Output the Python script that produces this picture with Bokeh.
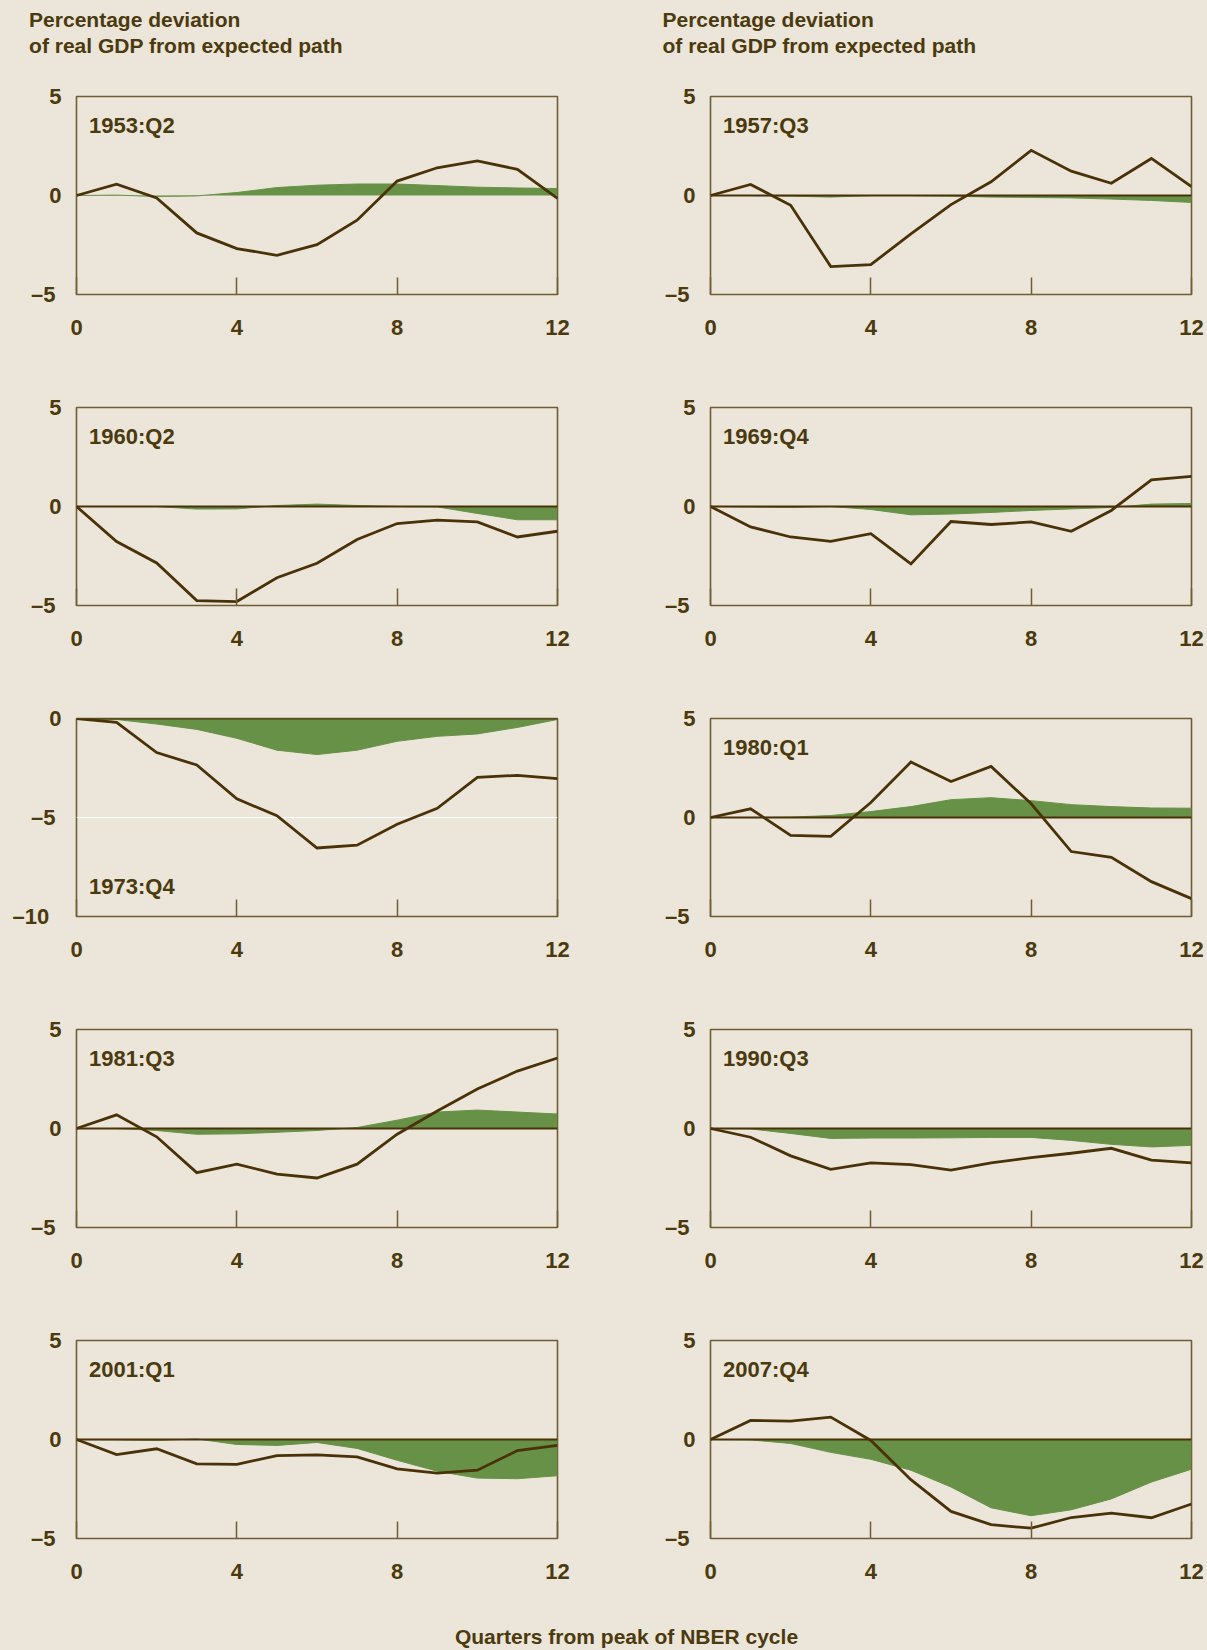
from bokeh.plotting import figure
from bokeh.models import Range1d, FixedTicker, Label
from bokeh.layouts import column, row
from bokeh.embed import file_html
from bokeh.resources import INLINE

# ---------------- data ----------------
quarters = list(range(13))
x_ticks = [0, 4, 8, 12]

panel_labels = ["1953:Q2", "1957:Q3", "1960:Q2", "1969:Q4", "1973:Q4",
                "1980:Q1", "1981:Q3", "1990:Q3", "2001:Q1", "2007:Q4"]

actual_1953 = [0, 0.57, -0.12, -1.89, -2.68, -3.02, -2.48, -1.25, 0.73, 1.4, 1.75, 1.32, -0.15]
shaded_1953 = [0, 0.02, -0.05, -0.02, 0.15, 0.4, 0.52, 0.58, 0.58, 0.5, 0.42, 0.38, 0.35]

actual_1957 = [0, 0.56, -0.49, -3.59, -3.49, -1.94, -0.46, 0.69, 2.28, 1.23, 0.62, 1.87, 0.45]
shaded_1957 = [0, 0, -0.03, -0.08, 0, 0, -0.03, -0.08, -0.1, -0.12, -0.18, -0.25, -0.35]

actual_1960 = [0, -1.77, -2.85, -4.75, -4.8, -3.6, -2.87, -1.67, -0.86, -0.69, -0.78, -1.54, -1.25]
shaded_1960 = [0, 0, 0, -0.13, -0.12, 0.05, 0.12, 0.05, 0, -0.02, -0.35, -0.67, -0.67]

actual_1969 = [0, -1.03, -1.54, -1.76, -1.37, -2.9, -0.76, -0.91, -0.78, -1.25, -0.2, 1.35, 1.52]
shaded_1969 = [0, -0.03, -0.05, 0, -0.15, -0.42, -0.38, -0.3, -0.2, -0.12, -0.05, 0.12, 0.15]

actual_1973 = [0, -0.19, -1.72, -2.35, -4.06, -4.91, -6.54, -6.4, -5.34, -4.54, -2.97, -2.87, -3.04]
shaded_1973 = [0, -0.05, -0.28, -0.55, -1.0, -1.6, -1.82, -1.6, -1.15, -0.9, -0.78, -0.45, -0.05]

actual_1980 = [0, 0.44, -0.9, -0.95, 0.76, 2.8, 1.82, 2.58, 0.69, -1.72, -2.01, -3.24, -4.1]
shaded_1980 = [0, 0, 0.02, 0.1, 0.3, 0.55, 0.9, 1.0, 0.85, 0.65, 0.55, 0.48, 0.47]

actual_1981 = [0, 0.69, -0.42, -2.23, -1.8, -2.3, -2.5, -1.8, -0.29, 0.88, 1.99, 2.9, 3.56]
shaded_1981 = [0, 0, -0.1, -0.29, -0.27, -0.19, -0.1, 0.05, 0.42, 0.83, 0.93, 0.83, 0.73]

actual_1990 = [0, -0.44, -1.38, -2.06, -1.74, -1.82, -2.1, -1.74, -1.47, -1.25, -1.0, -1.6, -1.74]
shaded_1990 = [0, -0.02, -0.25, -0.5, -0.48, -0.48, -0.47, -0.45, -0.45, -0.6, -0.8, -0.93, -0.85]

actual_2001 = [0, -0.76, -0.47, -1.23, -1.26, -0.81, -0.78, -0.88, -1.48, -1.7, -1.55, -0.56, -0.3]
shaded_2001 = [0, -0.02, -0.05, 0.03, -0.25, -0.3, -0.15, -0.45, -1.05, -1.6, -1.95, -1.98, -1.83]

actual_2007 = [0, 0.96, 0.93, 1.13, -0.05, -2.03, -3.63, -4.3, -4.48, -3.94, -3.72, -3.95, -3.26]
shaded_2007 = [0, -0.02, -0.2, -0.65, -1.0, -1.55, -2.4, -3.45, -3.85, -3.55, -3.0, -2.15, -1.5]

actual_series = [actual_1953, actual_1957, actual_1960, actual_1969, actual_1973,
                 actual_1980, actual_1981, actual_1990, actual_2001, actual_2007]
shaded_series = [shaded_1953, shaded_1957, shaded_1960, shaded_1969, shaded_1973,
                 shaded_1980, shaded_1981, shaded_1990, shaded_2001, shaded_2007]

header_line1 = "Percentage deviation"
header_line2 = "of real GDP from expected path"
footer_text = "Quarters from peak of NBER cycle"

# ---------------- style ----------------
BG = "#ECE5D9"
TEXT = "#4A3A0E"
LINE = "#4A3208"
BORDER = "#6F5D34"
GREEN = "#679147"
FONT = "Liberation Sans"

FRAME_W, FRAME_H = 481, 198
L_LEFT, L_RIGHT, R_LEFT, R_RIGHT = 76, 20, 133, 16
TOTAL_W = L_LEFT + FRAME_W + L_RIGHT + R_LEFT + FRAME_W + R_RIGHT


def make_panel(idx, col, rowi):
    label = panel_labels[idx]
    is_1973 = label == "1973:Q4"
    ylo, yhi = (-10, 0) if is_1973 else (-5, 5)
    p = figure(frame_width=FRAME_W, frame_height=FRAME_H,
               x_range=Range1d(0, 12), y_range=Range1d(ylo, yhi),
               output_backend="svg", toolbar_location=None,
               background_fill_color=BG, border_fill_color=BG,
               outline_line_color=BORDER, outline_line_width=1.6,
               min_border_left=L_LEFT if col == 0 else R_LEFT,
               min_border_right=L_RIGHT if col == 0 else R_RIGHT,
               min_border_top=20 if rowi == 0 else 61,
               min_border_bottom=52,
               styles={"background-color": BG})
    # axes
    xa = p.xaxis[0]
    xa.ticker = FixedTicker(ticks=x_ticks)
    xa.major_tick_in = 17
    xa.major_tick_out = 0
    xa.major_tick_line_color = BORDER
    xa.major_tick_line_width = 1.5
    xa.minor_tick_line_color = None
    xa.axis_line_color = None
    xa.major_label_standoff = 25
    ya = p.yaxis[0]
    yticks = [-10, -5, 0] if is_1973 else [-5, 0, 5]
    ya.ticker = FixedTicker(ticks=yticks)
    ya.major_label_overrides = {-5: "\u20135\u00a0", -10: "\u201310\u00a0\u00a0"}
    ya.major_tick_in = 0
    ya.major_tick_out = 0
    ya.minor_tick_line_color = None
    ya.axis_line_color = None
    ya.major_label_standoff = 15
    for ax in (xa, ya):
        ax.major_label_text_font = FONT
        ax.major_label_text_font_style = "bold"
        ax.major_label_text_font_size = "22px"
        ax.major_label_text_color = TEXT
    p.xgrid.visible = False
    if is_1973:
        p.ygrid.ticker = FixedTicker(ticks=[-5])
        p.ygrid.grid_line_color = "white"
        p.ygrid.grid_line_width = 1.2
    else:
        p.ygrid.visible = False

    zeros = [0] * len(quarters)
    p.varea(x=quarters, y1=zeros, y2=shaded_series[idx], fill_color=GREEN)
    p.line(quarters, shaded_series[idx], line_color=GREEN, line_width=1)
    if label != "1953:Q2":
        p.hspan(y=[0], line_color=LINE, line_width=2)
    p.line(quarters, actual_series[idx], line_color=LINE, line_width=2.8,
           line_join="miter")

    if is_1973:
        lab = Label(x=0, y=ylo, x_offset=12.5, y_offset=30, text=label)
    else:
        lab = Label(x=0, y=yhi, x_offset=12.5, y_offset=-29, text=label)
    lab.text_font = FONT
    lab.text_font_style = "bold"
    lab.text_font_size = "22px"
    lab.text_color = TEXT
    lab.text_baseline = "alphabetic"
    p.add_layout(lab)
    return p


def text_fig(height, items):
    f = figure(width=TOTAL_W, height=height, x_range=Range1d(0, TOTAL_W),
               y_range=Range1d(height, 0), min_border=0,
               x_axis_type=None, y_axis_type=None,
               output_backend="svg", toolbar_location=None,
               background_fill_color=BG, border_fill_color=BG,
               outline_line_color=None, styles={"background-color": BG})
    f.xgrid.visible = False
    f.ygrid.visible = False
    for (tx, ty, txt, align) in items:
        f.add_layout(Label(x=tx, y=ty, text=txt, text_font=FONT,
                           text_font_style="bold", text_font_size="21px",
                           text_color=TEXT, text_align=align,
                           text_baseline="alphabetic"))
    return f


header = text_fig(76, [(28.6, 19.3, header_line1, "left"),
                       (28.6, 45.3, header_line2, "left"),
                       (662, 19.3, header_line1, "left"),
                       (662, 45.3, header_line2, "left")])
footer = text_fig(60, [(626, 46, footer_text, "center")])

rows = []
for r in range(5):
    rows.append(row(make_panel(2 * r, 0, r), make_panel(2 * r + 1, 1, r),
                    styles={"background-color": BG}))

layout = column(header, *rows, footer, styles={"background-color": BG})

open("out.html", "w").write(file_html(layout, INLINE))
